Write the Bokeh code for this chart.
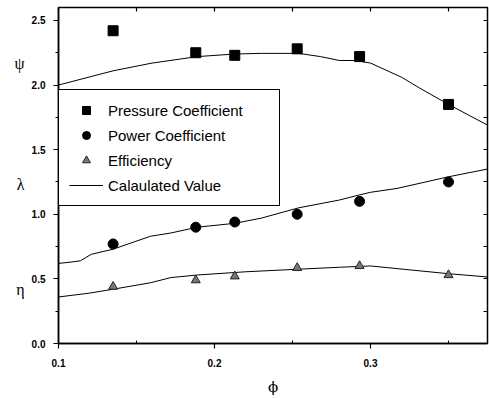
from bokeh.plotting import figure
from bokeh.models import (FixedTicker, LinearAxis, Legend, LegendItem, Range1d)
from bokeh.embed import file_html
from bokeh.resources import INLINE

# experimental points
phi_exp = [0.135, 0.188, 0.213, 0.253, 0.293, 0.350]
psi_exp = [2.42, 2.25, 2.23, 2.28, 2.22, 1.85]
lam_exp = [0.77, 0.90, 0.94, 1.00, 1.10, 1.25]
eta_exp = [0.44, 0.49, 0.52, 0.585, 0.60, 0.53]

# calculated curves
phi_psi = [0.100, 0.135, 0.160, 0.189, 0.213, 0.230, 0.254, 0.268, 0.280, 0.290, 0.300, 0.320, 0.331, 0.350, 0.375]
psi_calc = [2.00, 2.11, 2.17, 2.22, 2.24, 2.245, 2.245, 2.22, 2.19, 2.19, 2.17, 2.06, 1.98, 1.85, 1.69]

phi_lam = [0.100, 0.108, 0.114, 0.121, 0.135, 0.159, 0.172, 0.189, 0.213, 0.230, 0.254, 0.280, 0.293, 0.300, 0.317, 0.350, 0.375]
lam_calc = [0.62, 0.63, 0.64, 0.69, 0.73, 0.83, 0.855, 0.90, 0.93, 0.97, 1.05, 1.11, 1.15, 1.17, 1.20, 1.29, 1.35]

phi_eta = [0.100, 0.120, 0.135, 0.159, 0.172, 0.189, 0.220, 0.254, 0.280, 0.300, 0.325, 0.350, 0.375]
eta_calc = [0.36, 0.39, 0.42, 0.47, 0.51, 0.53, 0.555, 0.575, 0.59, 0.60, 0.57, 0.54, 0.515]

x_ticks = [0.1, 0.2, 0.3]
x_minor = [0.15, 0.25, 0.35]
y_ticks = [0.0, 0.5, 1.0, 1.5, 2.0, 2.5]
y_minor = [0.25, 0.75, 1.25, 1.75, 2.25]

series_names = ["Pressure Coefficient", "Power Coefficient", "Efficiency", "Calaulated Value"]
side_symbols = ["\u03c8", "\u03bb", "\u03b7"]
side_symbol_y = [2.17, 1.23, 0.42]

FONT = "Liberation Sans"

p = figure(width=489, height=398, output_backend="svg", toolbar_location=None,
           x_range=Range1d(0.1, 0.375), y_range=Range1d(0.0, 2.6),
           min_border_left=58, min_border_right=2, min_border_top=7,
           min_border_bottom=54)
p.background_fill_color = "white"
p.border_fill_color = "white"
p.grid.visible = False
p.outline_line_color = "black"
p.outline_line_width = 1.5

# main axes
xa = p.xaxis[0]
xa.ticker = FixedTicker(ticks=x_ticks, minor_ticks=x_minor)
xa.major_label_overrides = {t: f"{t:.1f}" for t in x_ticks}
xa.axis_label = "\u03d5"
xa.axis_label_text_font = "DejaVu Serif"
xa.axis_label_text_font_style = "normal"
xa.axis_label_text_font_size = "15px"
xa.axis_label_text_color = "black"
xa.axis_label_standoff = 8

ya = p.yaxis[0]
ya.ticker = FixedTicker(ticks=y_ticks, minor_ticks=y_minor)
ya.major_label_overrides = {t: f"{t:.1f}" for t in y_ticks}

for ax in (xa, ya):
    ax.axis_line_color = "black"
    ax.axis_line_width = 1.5
    ax.major_tick_line_color = "black"
    ax.minor_tick_line_color = "black"
    ax.major_tick_line_width = 1.2
    ax.major_tick_out = 5
    ax.major_tick_in = 0
    ax.major_label_text_font = FONT
    ax.major_label_text_font_size = "10px"
    ax.major_label_text_font_style = "bold"
    ax.major_label_text_color = "black"
xa.minor_tick_in = 3
xa.minor_tick_out = 0
xa.major_label_standoff = 10
ya.minor_tick_out = 3
ya.minor_tick_in = 0
ya.major_label_standoff = 8

# second left axis carrying the symbols psi / lambda / eta
sym_ax = LinearAxis(ticker=FixedTicker(ticks=side_symbol_y, minor_ticks=[]))
sym_ax.major_label_overrides = dict(zip(side_symbol_y, side_symbols))
sym_ax.axis_line_color = None
sym_ax.major_tick_line_color = None
sym_ax.minor_tick_line_color = None
sym_ax.major_tick_out = 0
sym_ax.major_tick_in = 0
sym_ax.major_label_standoff = 4
sym_ax.major_label_text_font = "Liberation Serif"
sym_ax.major_label_text_font_size = "16px"
sym_ax.major_label_text_color = "black"
p.add_layout(sym_ax, "left")

# top / right frame ticks (no labels)
for side, tk, mn in (("above", x_ticks, x_minor), ("right", y_ticks, y_minor)):
    ax = LinearAxis(ticker=FixedTicker(ticks=[], minor_ticks=tk + mn))
    ax.axis_line_color = None
    ax.minor_tick_out = 0
    ax.minor_tick_in = 4
    ax.minor_tick_line_color = "black"
    ax.minor_tick_line_width = 1.2
    p.add_layout(ax, side)

# calculated lines
l1 = p.line(phi_psi, psi_calc, line_color="black", line_width=1)
l2 = p.line(phi_lam, lam_calc, line_color="black", line_width=1)
l3 = p.line(phi_eta, eta_calc, line_color="black", line_width=1)

# experimental markers
r_sq = p.scatter(phi_exp, psi_exp, marker="square", size=10,
                 fill_color="black", line_color="black")
r_ci = p.scatter(phi_exp, lam_exp, marker="circle", size=10,
                 fill_color="black", line_color="black")
r_tr = p.scatter(phi_exp, eta_exp, marker="triangle", size=9,
                 fill_color="#777777", line_color="#222222", line_width=1)

legend = Legend(items=[
    LegendItem(label=series_names[0], renderers=[r_sq]),
    LegendItem(label=series_names[1], renderers=[r_ci]),
    LegendItem(label=series_names[2], renderers=[r_tr]),
    LegendItem(label=series_names[3], renderers=[l1]),
], location=(0, 137))
legend.border_line_color = "black"
legend.border_line_alpha = 1.0
legend.border_line_width = 1.5
legend.background_fill_color = "white"
legend.background_fill_alpha = 1.0
legend.label_text_font = FONT
legend.label_text_font_size = "15px"
legend.label_text_color = "black"
legend.glyph_width = 34
legend.glyph_height = 20
legend.label_height = 20
legend.label_standoff = 5
legend.spacing = 5
legend.padding = 10
legend.margin = 0
legend.label_width = 161
p.add_layout(legend, "center")

open("out.html", "w").write(file_html(p, INLINE))
